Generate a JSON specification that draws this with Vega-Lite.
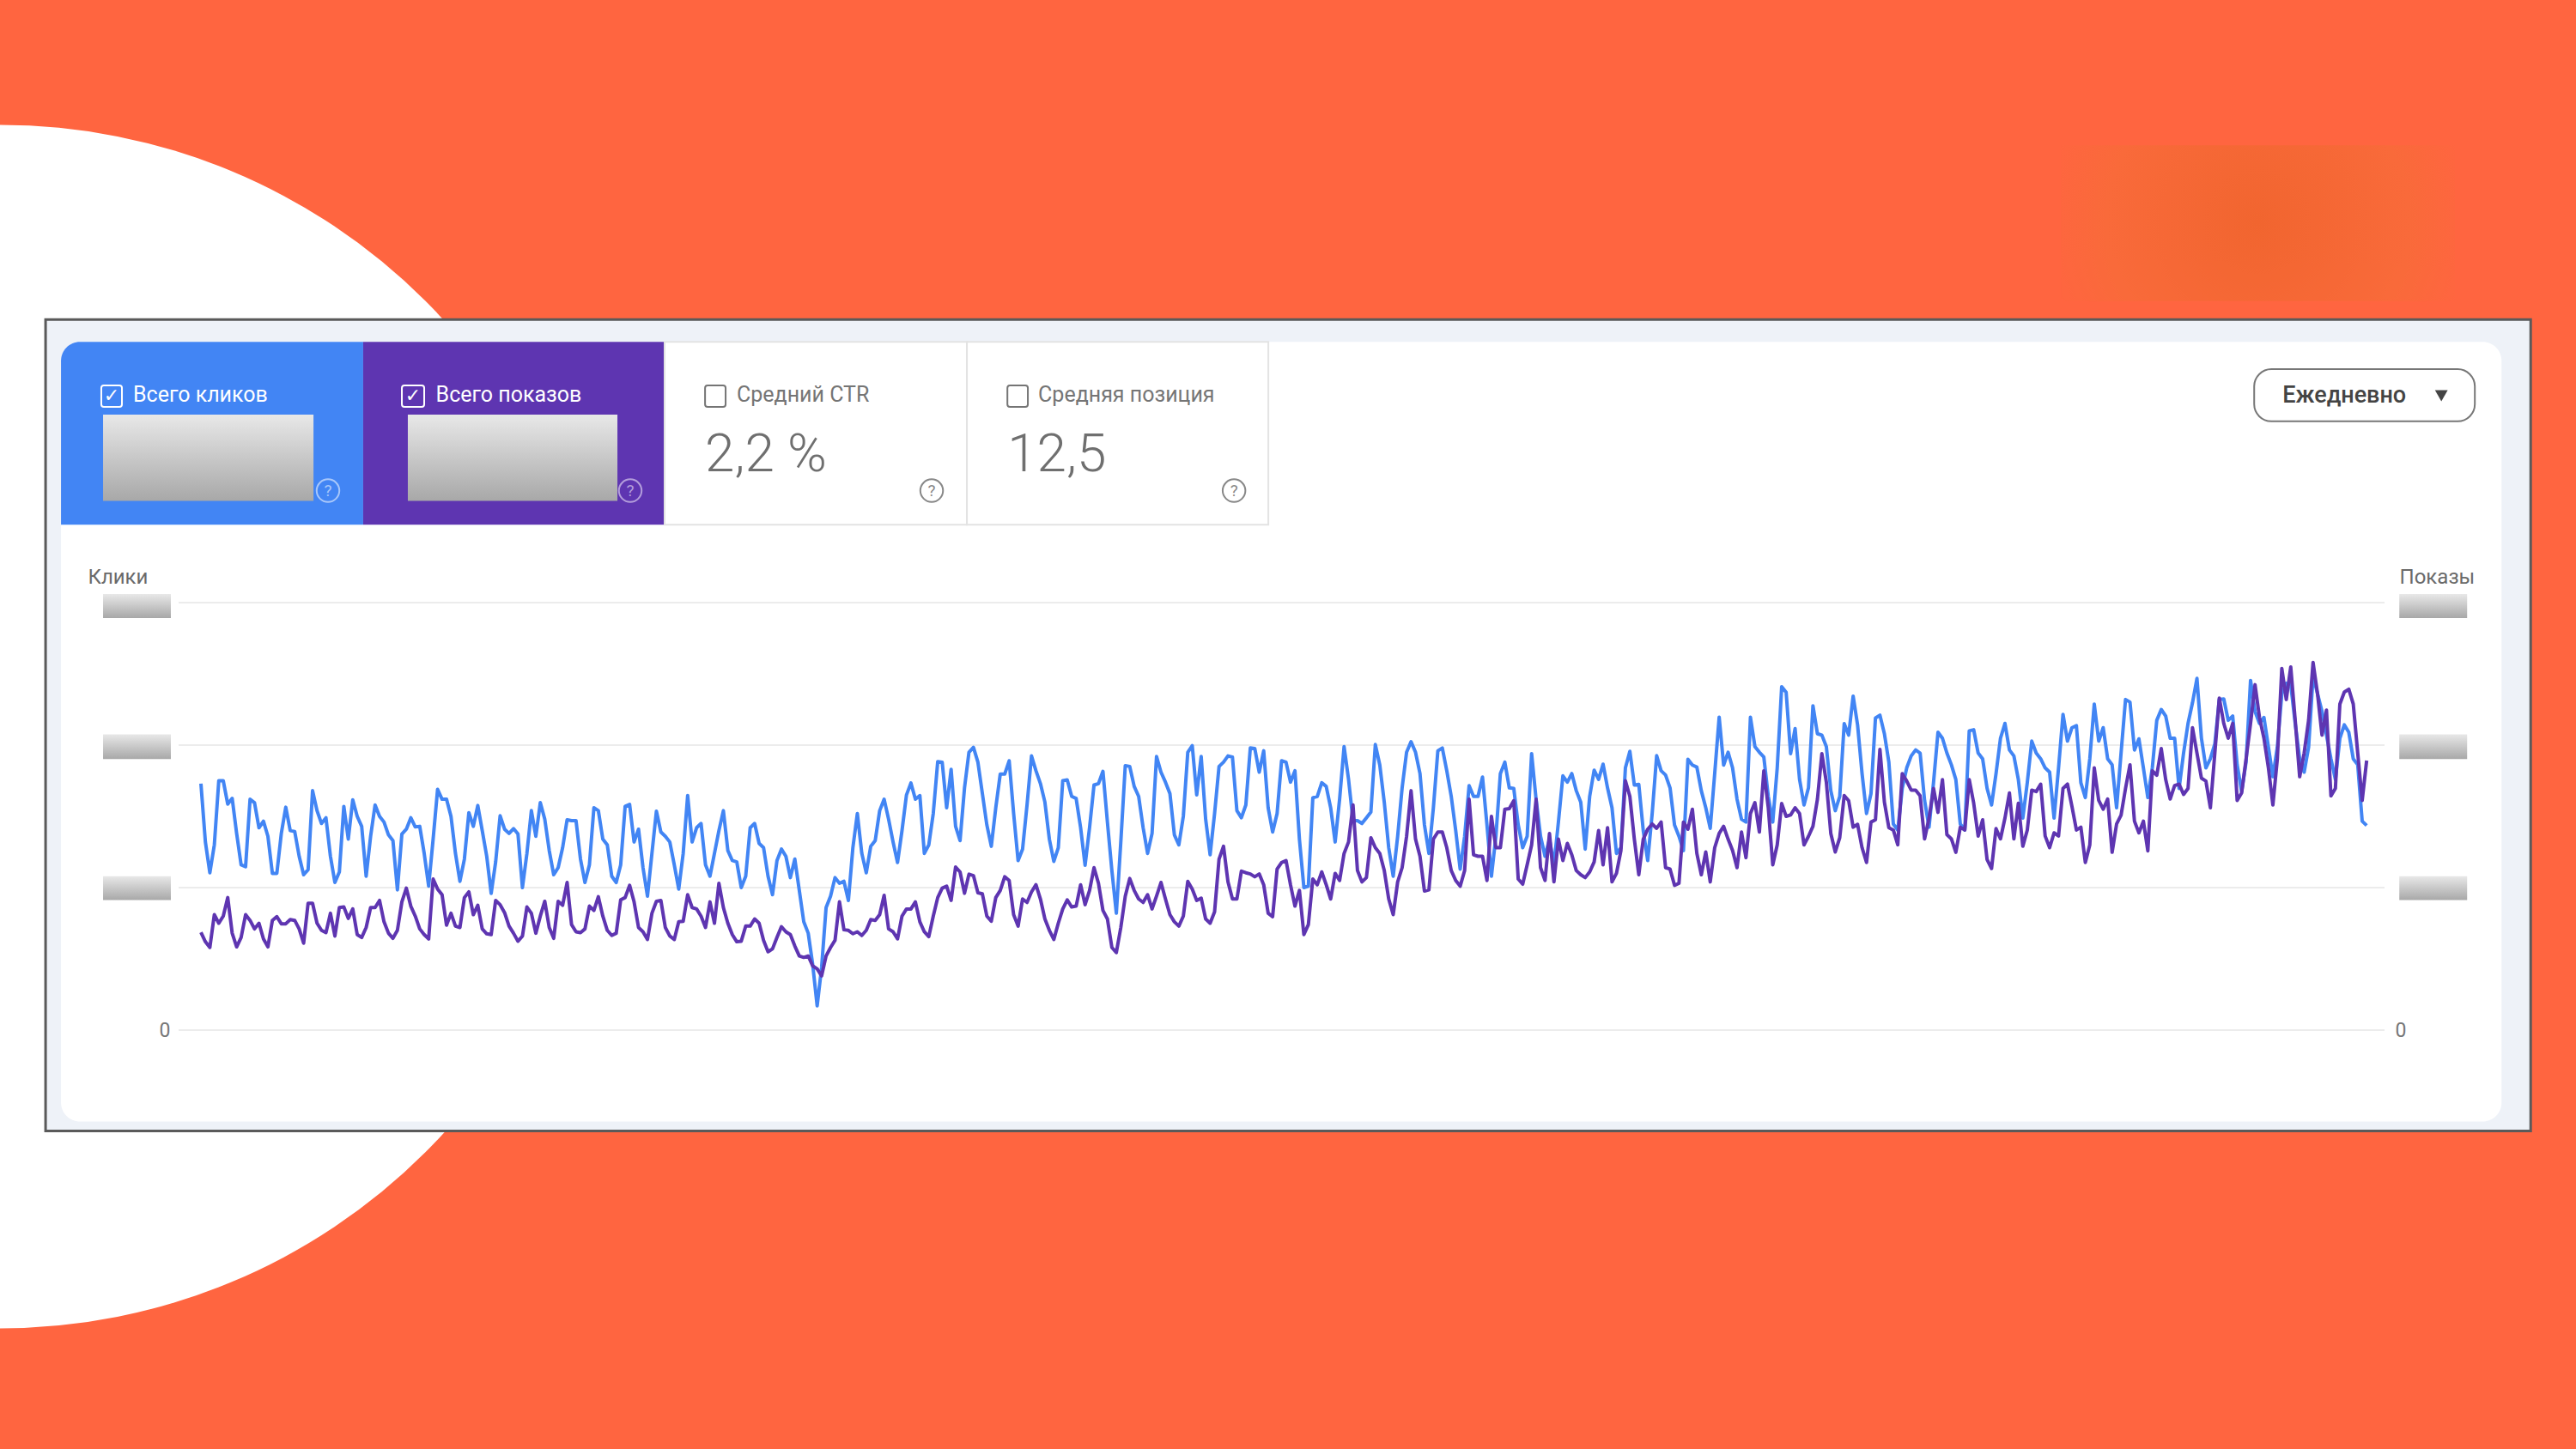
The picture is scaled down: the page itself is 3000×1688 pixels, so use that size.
{
"$schema":"https://vega.github.io/schema/vega-lite/v6.json",
"width":2569,"height":498,
"autosize":{"type":"none"},
"padding":{"left":208,"top":702,"right":223,"bottom":488},
"background":"#ff6540",
"config":{"view":{"stroke":null},"font":"Roboto"},
"datasets":{
"grid":[{"tick":0},{"tick":500},{"tick":1000},{"tick":1500}],
"daily":[
{"date":"2024-08-15","clicks":865,"impressions":343},{"date":"2024-08-16","clicks":660,"impressions":310},{"date":"2024-08-17","clicks":552,"impressions":290},{"date":"2024-08-18","clicks":650,"impressions":405},{"date":"2024-08-19","clicks":875,"impressions":375},{"date":"2024-08-20","clicks":875,"impressions":400},{"date":"2024-08-21","clicks":793,"impressions":465},{"date":"2024-08-22","clicks":813,"impressions":340},{"date":"2024-08-23","clicks":690,"impressions":292},{"date":"2024-08-24","clicks":580,"impressions":325},{"date":"2024-08-25","clicks":573,"impressions":405},{"date":"2024-08-26","clicks":810,"impressions":385},{"date":"2024-08-27","clicks":798,"impressions":355},{"date":"2024-08-28","clicks":710,"impressions":375},{"date":"2024-08-29","clicks":733,"impressions":320},{"date":"2024-08-30","clicks":680,"impressions":292},{"date":"2024-08-31","clicks":550,"impressions":385},
{"date":"2024-09-01","clicks":550,"impressions":398},{"date":"2024-09-02","clicks":690,"impressions":373},{"date":"2024-09-03","clicks":782,"impressions":373},{"date":"2024-09-04","clicks":700,"impressions":388},{"date":"2024-09-05","clicks":697,"impressions":385},{"date":"2024-09-06","clicks":610,"impressions":355},{"date":"2024-09-07","clicks":545,"impressions":305},{"date":"2024-09-08","clicks":563,"impressions":445},{"date":"2024-09-09","clicks":840,"impressions":445},{"date":"2024-09-10","clicks":770,"impressions":375},{"date":"2024-09-11","clicks":725,"impressions":350},{"date":"2024-09-12","clicks":745,"impressions":342},{"date":"2024-09-13","clicks":610,"impressions":410},{"date":"2024-09-14","clicks":518,"impressions":330},{"date":"2024-09-15","clicks":555,"impressions":430},{"date":"2024-09-16","clicks":785,"impressions":432},{"date":"2024-09-17","clicks":670,"impressions":392},{"date":"2024-09-18","clicks":808,"impressions":425},{"date":"2024-09-19","clicks":750,"impressions":335},{"date":"2024-09-20","clicks":715,"impressions":325},{"date":"2024-09-21","clicks":540,"impressions":360},{"date":"2024-09-22","clicks":680,"impressions":430},{"date":"2024-09-23","clicks":790,"impressions":430},{"date":"2024-09-24","clicks":750,"impressions":455},{"date":"2024-09-25","clicks":730,"impressions":380},{"date":"2024-09-26","clicks":685,"impressions":340},{"date":"2024-09-27","clicks":665,"impressions":322},{"date":"2024-09-28","clicks":492,"impressions":350},{"date":"2024-09-29","clicks":688,"impressions":450},{"date":"2024-09-30","clicks":705,"impressions":498},
{"date":"2024-10-01","clicks":745,"impressions":435},{"date":"2024-10-02","clicks":713,"impressions":400},{"date":"2024-10-03","clicks":715,"impressions":355},{"date":"2024-10-04","clicks":620,"impressions":335},{"date":"2024-10-05","clicks":505,"impressions":320},{"date":"2024-10-06","clicks":670,"impressions":530},{"date":"2024-10-07","clicks":845,"impressions":495},{"date":"2024-10-08","clicks":810,"impressions":475},{"date":"2024-10-09","clicks":810,"impressions":368},{"date":"2024-10-10","clicks":750,"impressions":410},{"date":"2024-10-11","clicks":620,"impressions":365},{"date":"2024-10-12","clicks":522,"impressions":360},{"date":"2024-10-13","clicks":600,"impressions":465},{"date":"2024-10-14","clicks":763,"impressions":485},{"date":"2024-10-15","clicks":715,"impressions":405},{"date":"2024-10-16","clicks":788,"impressions":438},{"date":"2024-10-17","clicks":700,"impressions":355},{"date":"2024-10-18","clicks":610,"impressions":338},{"date":"2024-10-19","clicks":480,"impressions":335},{"date":"2024-10-20","clicks":590,"impressions":455},{"date":"2024-10-21","clicks":752,"impressions":440},{"date":"2024-10-22","clicks":705,"impressions":412},{"date":"2024-10-23","clicks":690,"impressions":365},{"date":"2024-10-24","clicks":707,"impressions":340},{"date":"2024-10-25","clicks":688,"impressions":312},{"date":"2024-10-26","clicks":500,"impressions":330},{"date":"2024-10-27","clicks":620,"impressions":432},{"date":"2024-10-28","clicks":770,"impressions":410},{"date":"2024-10-29","clicks":680,"impressions":340},{"date":"2024-10-30","clicks":798,"impressions":400},{"date":"2024-10-31","clicks":740,"impressions":452},
{"date":"2024-11-01","clicks":630,"impressions":360},{"date":"2024-11-02","clicks":545,"impressions":322},{"date":"2024-11-03","clicks":570,"impressions":452},{"date":"2024-11-04","clicks":640,"impressions":438},{"date":"2024-11-05","clicks":738,"impressions":518},{"date":"2024-11-06","clicks":735,"impressions":370},{"date":"2024-11-07","clicks":735,"impressions":345},{"date":"2024-11-08","clicks":600,"impressions":342},{"date":"2024-11-09","clicks":518,"impressions":355},{"date":"2024-11-10","clicks":580,"impressions":435},{"date":"2024-11-11","clicks":780,"impressions":420},{"date":"2024-11-12","clicks":770,"impressions":468},{"date":"2024-11-13","clicks":670,"impressions":400},{"date":"2024-11-14","clicks":650,"impressions":350},{"date":"2024-11-15","clicks":540,"impressions":332},{"date":"2024-11-16","clicks":518,"impressions":340},{"date":"2024-11-17","clicks":580,"impressions":457},{"date":"2024-11-18","clicks":785,"impressions":465},{"date":"2024-11-19","clicks":792,"impressions":508},{"date":"2024-11-20","clicks":660,"impressions":450},{"date":"2024-11-21","clicks":705,"impressions":360},{"date":"2024-11-22","clicks":570,"impressions":345},{"date":"2024-11-23","clicks":470,"impressions":318},{"date":"2024-11-24","clicks":620,"impressions":410},{"date":"2024-11-25","clicks":768,"impressions":452},{"date":"2024-11-26","clicks":695,"impressions":455},{"date":"2024-11-27","clicks":680,"impressions":360},{"date":"2024-11-28","clicks":660,"impressions":330},{"date":"2024-11-29","clicks":580,"impressions":318},{"date":"2024-11-30","clicks":495,"impressions":380},
{"date":"2024-12-01","clicks":620,"impressions":382},{"date":"2024-12-02","clicks":823,"impressions":475},{"date":"2024-12-03","clicks":660,"impressions":430},{"date":"2024-12-04","clicks":710,"impressions":425},{"date":"2024-12-05","clicks":725,"impressions":400},{"date":"2024-12-06","clicks":580,"impressions":360},{"date":"2024-12-07","clicks":540,"impressions":450},{"date":"2024-12-08","clicks":620,"impressions":375},{"date":"2024-12-09","clicks":700,"impressions":515},{"date":"2024-12-10","clicks":770,"impressions":430},{"date":"2024-12-11","clicks":630,"impressions":375},{"date":"2024-12-12","clicks":595,"impressions":335},{"date":"2024-12-13","clicks":590,"impressions":310},{"date":"2024-12-14","clicks":500,"impressions":312},{"date":"2024-12-15","clicks":540,"impressions":365},{"date":"2024-12-16","clicks":710,"impressions":365},{"date":"2024-12-17","clicks":725,"impressions":390},{"date":"2024-12-18","clicks":655,"impressions":375},{"date":"2024-12-19","clicks":640,"impressions":315},{"date":"2024-12-20","clicks":540,"impressions":275},{"date":"2024-12-21","clicks":475,"impressions":285},{"date":"2024-12-22","clicks":595,"impressions":325},{"date":"2024-12-23","clicks":635,"impressions":363},{"date":"2024-12-24","clicks":610,"impressions":345},{"date":"2024-12-25","clicks":535,"impressions":335},{"date":"2024-12-26","clicks":600,"impressions":295},{"date":"2024-12-27","clicks":490,"impressions":260},{"date":"2024-12-28","clicks":380,"impressions":255},{"date":"2024-12-29","clicks":340,"impressions":260},{"date":"2024-12-30","clicks":230,"impressions":225},{"date":"2024-12-31","clicks":85,"impressions":215},
{"date":"2025-01-01","clicks":220,"impressions":190},{"date":"2025-01-02","clicks":430,"impressions":260},{"date":"2025-01-03","clicks":470,"impressions":290},{"date":"2025-01-04","clicks":535,"impressions":315},{"date":"2025-01-05","clicks":515,"impressions":450},{"date":"2025-01-06","clicks":522,"impressions":352},{"date":"2025-01-07","clicks":455,"impressions":350},{"date":"2025-01-08","clicks":640,"impressions":338},{"date":"2025-01-09","clicks":760,"impressions":345},{"date":"2025-01-10","clicks":620,"impressions":332},{"date":"2025-01-11","clicks":552,"impressions":350},{"date":"2025-01-12","clicks":645,"impressions":388},{"date":"2025-01-13","clicks":665,"impressions":385},{"date":"2025-01-14","clicks":770,"impressions":405},{"date":"2025-01-15","clicks":810,"impressions":473},{"date":"2025-01-16","clicks":740,"impressions":355},{"date":"2025-01-17","clicks":660,"impressions":345},{"date":"2025-01-18","clicks":588,"impressions":320},{"date":"2025-01-19","clicks":700,"impressions":400},{"date":"2025-01-20","clicks":825,"impressions":425},{"date":"2025-01-21","clicks":867,"impressions":425},{"date":"2025-01-22","clicks":810,"impressions":450},{"date":"2025-01-23","clicks":823,"impressions":380},{"date":"2025-01-24","clicks":620,"impressions":345},{"date":"2025-01-25","clicks":650,"impressions":328},{"date":"2025-01-26","clicks":760,"impressions":400},{"date":"2025-01-27","clicks":942,"impressions":465},{"date":"2025-01-28","clicks":940,"impressions":498},{"date":"2025-01-29","clicks":780,"impressions":505},{"date":"2025-01-30","clicks":915,"impressions":455},{"date":"2025-01-31","clicks":715,"impressions":572},
{"date":"2025-02-01","clicks":665,"impressions":555},{"date":"2025-02-02","clicks":850,"impressions":480},{"date":"2025-02-03","clicks":975,"impressions":547},{"date":"2025-02-04","clicks":992,"impressions":542},{"date":"2025-02-05","clicks":940,"impressions":482},{"date":"2025-02-06","clicks":830,"impressions":478},{"date":"2025-02-07","clicks":720,"impressions":400},{"date":"2025-02-08","clicks":645,"impressions":382},{"date":"2025-02-09","clicks":780,"impressions":465},{"date":"2025-02-10","clicks":898,"impressions":490},{"date":"2025-02-11","clicks":898,"impressions":538},{"date":"2025-02-12","clicks":945,"impressions":525},{"date":"2025-02-13","clicks":760,"impressions":405},{"date":"2025-02-14","clicks":595,"impressions":365},{"date":"2025-02-15","clicks":635,"impressions":460},{"date":"2025-02-16","clicks":790,"impressions":448},{"date":"2025-02-17","clicks":962,"impressions":485},{"date":"2025-02-18","clicks":910,"impressions":510},{"date":"2025-02-19","clicks":865,"impressions":460},{"date":"2025-02-20","clicks":800,"impressions":390},{"date":"2025-02-21","clicks":670,"impressions":350},{"date":"2025-02-22","clicks":592,"impressions":318},{"date":"2025-02-23","clicks":640,"impressions":375},{"date":"2025-02-24","clicks":875,"impressions":425},{"date":"2025-02-25","clicks":878,"impressions":457},{"date":"2025-02-26","clicks":820,"impressions":432},{"date":"2025-02-27","clicks":813,"impressions":435},{"date":"2025-02-28","clicks":710,"impressions":510},
{"date":"2025-03-01","clicks":578,"impressions":440},{"date":"2025-03-02","clicks":710,"impressions":490},{"date":"2025-03-03","clicks":860,"impressions":570},{"date":"2025-03-04","clicks":865,"impressions":515},{"date":"2025-03-05","clicks":908,"impressions":420},{"date":"2025-03-06","clicks":730,"impressions":390},{"date":"2025-03-07","clicks":560,"impressions":290},{"date":"2025-03-08","clicks":410,"impressions":272},{"date":"2025-03-09","clicks":660,"impressions":360},{"date":"2025-03-10","clicks":928,"impressions":470},{"date":"2025-03-11","clicks":925,"impressions":532},{"date":"2025-03-12","clicks":855,"impressions":490},{"date":"2025-03-13","clicks":820,"impressions":460},{"date":"2025-03-14","clicks":710,"impressions":448},{"date":"2025-03-15","clicks":620,"impressions":475},{"date":"2025-03-16","clicks":690,"impressions":425},{"date":"2025-03-17","clicks":960,"impressions":470},{"date":"2025-03-18","clicks":905,"impressions":518},{"date":"2025-03-19","clicks":870,"impressions":460},{"date":"2025-03-20","clicks":830,"impressions":405},{"date":"2025-03-21","clicks":685,"impressions":380},{"date":"2025-03-22","clicks":650,"impressions":365},{"date":"2025-03-23","clicks":750,"impressions":400},{"date":"2025-03-24","clicks":975,"impressions":522},{"date":"2025-03-25","clicks":998,"impressions":495},{"date":"2025-03-26","clicks":825,"impressions":455},{"date":"2025-03-27","clicks":960,"impressions":463},{"date":"2025-03-28","clicks":740,"impressions":390},{"date":"2025-03-29","clicks":615,"impressions":375},{"date":"2025-03-30","clicks":760,"impressions":415},{"date":"2025-03-31","clicks":925,"impressions":600},
{"date":"2025-04-01","clicks":940,"impressions":645},{"date":"2025-04-02","clicks":962,"impressions":520},{"date":"2025-04-03","clicks":958,"impressions":460},{"date":"2025-04-04","clicks":770,"impressions":460},{"date":"2025-04-05","clicks":745,"impressions":558},{"date":"2025-04-06","clicks":790,"impressions":552},{"date":"2025-04-07","clicks":990,"impressions":548},{"date":"2025-04-08","clicks":988,"impressions":538},{"date":"2025-04-09","clicks":905,"impressions":548},{"date":"2025-04-10","clicks":980,"impressions":510},{"date":"2025-04-11","clicks":780,"impressions":410},{"date":"2025-04-12","clicks":695,"impressions":398},{"date":"2025-04-13","clicks":760,"impressions":565},{"date":"2025-04-14","clicks":945,"impressions":588},{"date":"2025-04-15","clicks":940,"impressions":595},{"date":"2025-04-16","clicks":870,"impressions":510},{"date":"2025-04-17","clicks":910,"impressions":435},{"date":"2025-04-18","clicks":670,"impressions":490},{"date":"2025-04-19","clicks":500,"impressions":335},{"date":"2025-04-20","clicks":505,"impressions":370},{"date":"2025-04-21","clicks":815,"impressions":530},{"date":"2025-04-22","clicks":820,"impressions":510},{"date":"2025-04-23","clicks":868,"impressions":555},{"date":"2025-04-24","clicks":855,"impressions":510},{"date":"2025-04-25","clicks":780,"impressions":460},{"date":"2025-04-26","clicks":660,"impressions":550},{"date":"2025-04-27","clicks":810,"impressions":525},{"date":"2025-04-28","clicks":995,"impressions":620},{"date":"2025-04-29","clicks":880,"impressions":660},{"date":"2025-04-30","clicks":735,"impressions":790},
{"date":"2025-05-01","clicks":735,"impressions":560},{"date":"2025-05-02","clicks":725,"impressions":520},{"date":"2025-05-03","clicks":745,"impressions":535},{"date":"2025-05-04","clicks":765,"impressions":675},{"date":"2025-05-05","clicks":1002,"impressions":640},{"date":"2025-05-06","clicks":930,"impressions":620},{"date":"2025-05-07","clicks":800,"impressions":560},{"date":"2025-05-08","clicks":640,"impressions":460},{"date":"2025-05-09","clicks":540,"impressions":405},{"date":"2025-05-10","clicks":680,"impressions":520},{"date":"2025-05-11","clicks":850,"impressions":570},{"date":"2025-05-12","clicks":975,"impressions":680},{"date":"2025-05-13","clicks":1012,"impressions":840},{"date":"2025-05-14","clicks":975,"impressions":670},{"date":"2025-05-15","clicks":900,"impressions":610},{"date":"2025-05-16","clicks":720,"impressions":488},{"date":"2025-05-17","clicks":620,"impressions":492},{"date":"2025-05-18","clicks":780,"impressions":670},{"date":"2025-05-19","clicks":980,"impressions":695},{"date":"2025-05-20","clicks":990,"impressions":695},{"date":"2025-05-21","clicks":910,"impressions":640},{"date":"2025-05-22","clicks":820,"impressions":560},{"date":"2025-05-23","clicks":700,"impressions":525},{"date":"2025-05-24","clicks":565,"impressions":505},{"date":"2025-05-25","clicks":680,"impressions":560},{"date":"2025-05-26","clicks":858,"impressions":810},{"date":"2025-05-27","clicks":820,"impressions":615},{"date":"2025-05-28","clicks":820,"impressions":610},{"date":"2025-05-29","clicks":888,"impressions":610},{"date":"2025-05-30","clicks":720,"impressions":525},{"date":"2025-05-31","clicks":540,"impressions":750},
{"date":"2025-06-01","clicks":680,"impressions":640},{"date":"2025-06-02","clicks":900,"impressions":640},{"date":"2025-06-03","clicks":940,"impressions":775},{"date":"2025-06-04","clicks":850,"impressions":777},{"date":"2025-06-05","clicks":848,"impressions":805},{"date":"2025-06-06","clicks":720,"impressions":530},{"date":"2025-06-07","clicks":640,"impressions":512},{"date":"2025-06-08","clicks":680,"impressions":580},{"date":"2025-06-09","clicks":970,"impressions":650},{"date":"2025-06-10","clicks":810,"impressions":810},{"date":"2025-06-11","clicks":680,"impressions":570},{"date":"2025-06-12","clicks":610,"impressions":525},{"date":"2025-06-13","clicks":670,"impressions":690},{"date":"2025-06-14","clicks":580,"impressions":520},{"date":"2025-06-15","clicks":730,"impressions":670},{"date":"2025-06-16","clicks":892,"impressions":595},{"date":"2025-06-17","clicks":870,"impressions":655},{"date":"2025-06-18","clicks":900,"impressions":615},{"date":"2025-06-19","clicks":840,"impressions":560},{"date":"2025-06-20","clicks":800,"impressions":545},{"date":"2025-06-21","clicks":635,"impressions":535},{"date":"2025-06-22","clicks":820,"impressions":555},{"date":"2025-06-23","clicks":912,"impressions":590},{"date":"2025-06-24","clicks":880,"impressions":700},{"date":"2025-06-25","clicks":933,"impressions":580},{"date":"2025-06-26","clicks":850,"impressions":710},{"date":"2025-06-27","clicks":780,"impressions":520},{"date":"2025-06-28","clicks":620,"impressions":550},{"date":"2025-06-29","clicks":640,"impressions":630},{"date":"2025-06-30","clicks":920,"impressions":875},
{"date":"2025-07-01","clicks":978,"impressions":820},{"date":"2025-07-02","clicks":860,"impressions":670},{"date":"2025-07-03","clicks":862,"impressions":545},{"date":"2025-07-04","clicks":700,"impressions":670},{"date":"2025-07-05","clicks":595,"impressions":705},{"date":"2025-07-06","clicks":760,"impressions":723},{"date":"2025-07-07","clicks":963,"impressions":708},{"date":"2025-07-08","clicks":910,"impressions":730},{"date":"2025-07-09","clicks":895,"impressions":570},{"date":"2025-07-10","clicks":850,"impressions":565},{"date":"2025-07-11","clicks":720,"impressions":508},{"date":"2025-07-12","clicks":680,"impressions":515},{"date":"2025-07-13","clicks":630,"impressions":730},{"date":"2025-07-14","clicks":950,"impressions":705},{"date":"2025-07-15","clicks":930,"impressions":775},{"date":"2025-07-16","clicks":923,"impressions":620},{"date":"2025-07-17","clicks":840,"impressions":545},{"date":"2025-07-18","clicks":780,"impressions":625},{"date":"2025-07-19","clicks":708,"impressions":520},{"date":"2025-07-20","clicks":900,"impressions":640},{"date":"2025-07-21","clicks":1098,"impressions":690},{"date":"2025-07-22","clicks":930,"impressions":715},{"date":"2025-07-23","clicks":975,"impressions":670},{"date":"2025-07-24","clicks":920,"impressions":630},{"date":"2025-07-25","clicks":810,"impressions":570},{"date":"2025-07-26","clicks":740,"impressions":695},{"date":"2025-07-27","clicks":730,"impressions":605},{"date":"2025-07-28","clicks":1098,"impressions":760},{"date":"2025-07-29","clicks":995,"impressions":798},{"date":"2025-07-30","clicks":975,"impressions":695},{"date":"2025-07-31","clicks":958,"impressions":910},
{"date":"2025-08-01","clicks":820,"impressions":780},{"date":"2025-08-02","clicks":730,"impressions":580},{"date":"2025-08-03","clicks":920,"impressions":650},{"date":"2025-08-04","clicks":1205,"impressions":795},{"date":"2025-08-05","clicks":1185,"impressions":750},{"date":"2025-08-06","clicks":970,"impressions":755},{"date":"2025-08-07","clicks":1058,"impressions":780},{"date":"2025-08-08","clicks":880,"impressions":760},{"date":"2025-08-09","clicks":790,"impressions":650},{"date":"2025-08-10","clicks":850,"impressions":680},{"date":"2025-08-11","clicks":1138,"impressions":715},{"date":"2025-08-12","clicks":1040,"impressions":810},{"date":"2025-08-13","clicks":1035,"impressions":970},{"date":"2025-08-14","clicks":995,"impressions":870},{"date":"2025-08-15","clicks":840,"impressions":690},{"date":"2025-08-16","clicks":770,"impressions":625},{"date":"2025-08-17","clicks":820,"impressions":675},{"date":"2025-08-18","clicks":1075,"impressions":823},{"date":"2025-08-19","clicks":1035,"impressions":805},{"date":"2025-08-20","clicks":1172,"impressions":712},{"date":"2025-08-21","clicks":1070,"impressions":722},{"date":"2025-08-22","clicks":900,"impressions":640},{"date":"2025-08-23","clicks":760,"impressions":588},{"date":"2025-08-24","clicks":830,"impressions":730},{"date":"2025-08-25","clicks":1095,"impressions":738},{"date":"2025-08-26","clicks":1105,"impressions":985},{"date":"2025-08-27","clicks":1040,"impressions":800},{"date":"2025-08-28","clicks":940,"impressions":710},{"date":"2025-08-29","clicks":723,"impressions":702},{"date":"2025-08-30","clicks":702,"impressions":650},{"date":"2025-08-31","clicks":848,"impressions":900},
{"date":"2025-09-01","clicks":920,"impressions":874},{"date":"2025-09-02","clicks":962,"impressions":842},{"date":"2025-09-03","clicks":983,"impressions":842},{"date":"2025-09-04","clicks":972,"impressions":822},{"date":"2025-09-05","clicks":806,"impressions":671},{"date":"2025-09-06","clicks":712,"impressions":744},{"date":"2025-09-07","clicks":868,"impressions":848},{"date":"2025-09-08","clicks":1045,"impressions":764},{"date":"2025-09-09","clicks":1024,"impressions":879},{"date":"2025-09-10","clicks":972,"impressions":686},{"date":"2025-09-11","clicks":931,"impressions":671},{"date":"2025-09-12","clicks":879,"impressions":624},{"date":"2025-09-13","clicks":723,"impressions":712},{"date":"2025-09-14","clicks":702,"impressions":702},{"date":"2025-09-15","clicks":1050,"impressions":879},{"date":"2025-09-16","clicks":1054,"impressions":796},{"date":"2025-09-17","clicks":972,"impressions":681},{"date":"2025-09-18","clicks":952,"impressions":738},{"date":"2025-09-19","clicks":848,"impressions":598},{"date":"2025-09-20","clicks":790,"impressions":567},{"date":"2025-09-21","clicks":900,"impressions":707},{"date":"2025-09-22","clicks":1024,"impressions":671},{"date":"2025-09-23","clicks":1076,"impressions":744},{"date":"2025-09-24","clicks":983,"impressions":832},{"date":"2025-09-25","clicks":962,"impressions":671},{"date":"2025-09-26","clicks":879,"impressions":796},{"date":"2025-09-27","clicks":744,"impressions":645},{"date":"2025-09-28","clicks":868,"impressions":702},{"date":"2025-09-29","clicks":1014,"impressions":842},{"date":"2025-09-30","clicks":972,"impressions":837},
{"date":"2025-10-01","clicks":952,"impressions":863},{"date":"2025-10-02","clicks":920,"impressions":681},{"date":"2025-10-03","clicks":905,"impressions":640},{"date":"2025-10-04","clicks":744,"impressions":692},{"date":"2025-10-05","clicks":920,"impressions":681},{"date":"2025-10-06","clicks":1108,"impressions":848},{"date":"2025-10-07","clicks":1014,"impressions":863},{"date":"2025-10-08","clicks":1061,"impressions":785},{"date":"2025-10-09","clicks":1068,"impressions":702},{"date":"2025-10-10","clicks":868,"impressions":712},{"date":"2025-10-11","clicks":816,"impressions":588},{"date":"2025-10-12","clicks":952,"impressions":650},{"date":"2025-10-13","clicks":1144,"impressions":920},{"date":"2025-10-14","clicks":1014,"impressions":806},{"date":"2025-10-15","clicks":1061,"impressions":775},{"date":"2025-10-16","clicks":952,"impressions":811},{"date":"2025-10-17","clicks":931,"impressions":624},{"date":"2025-10-18","clicks":780,"impressions":723},{"date":"2025-10-19","clicks":972,"impressions":754},{"date":"2025-10-20","clicks":1160,"impressions":848},{"date":"2025-10-21","clicks":1151,"impressions":931},{"date":"2025-10-22","clicks":983,"impressions":733},{"date":"2025-10-23","clicks":1022,"impressions":692},{"date":"2025-10-24","clicks":920,"impressions":733},{"date":"2025-10-25","clicks":816,"impressions":629},{"date":"2025-10-26","clicks":920,"impressions":910},{"date":"2025-10-27","clicks":1087,"impressions":894},{"date":"2025-10-28","clicks":1125,"impressions":988},{"date":"2025-10-29","clicks":1102,"impressions":879},{"date":"2025-10-30","clicks":1024,"impressions":811},{"date":"2025-10-31","clicks":1024,"impressions":858},
{"date":"2025-11-01","clicks":848,"impressions":863},{"date":"2025-11-02","clicks":972,"impressions":827},{"date":"2025-11-03","clicks":1076,"impressions":848},{"date":"2025-11-04","clicks":1149,"impressions":1061},{"date":"2025-11-05","clicks":1234,"impressions":972},{"date":"2025-11-06","clicks":1024,"impressions":884},{"date":"2025-11-07","clicks":920,"impressions":874},{"date":"2025-11-08","clicks":952,"impressions":780},{"date":"2025-11-09","clicks":1004,"impressions":972},{"date":"2025-11-10","clicks":1160,"impressions":1165},{"date":"2025-11-11","clicks":1162,"impressions":1076},{"date":"2025-11-12","clicks":1087,"impressions":1024},{"date":"2025-11-13","clicks":1102,"impressions":1076},{"date":"2025-11-14","clicks":931,"impressions":806},{"date":"2025-11-15","clicks":837,"impressions":832},{"date":"2025-11-16","clicks":941,"impressions":952},{"date":"2025-11-17","clicks":1227,"impressions":1076},{"date":"2025-11-18","clicks":1118,"impressions":1212},{"date":"2025-11-19","clicks":1076,"impressions":1097},{"date":"2025-11-20","clicks":1097,"impressions":1024},{"date":"2025-11-21","clicks":993,"impressions":920},{"date":"2025-11-22","clicks":889,"impressions":790},{"date":"2025-11-23","clicks":993,"impressions":952},{"date":"2025-11-24","clicks":1180,"impressions":1269},{"date":"2025-11-25","clicks":1217,"impressions":1160},{"date":"2025-11-26","clicks":1212,"impressions":1274},{"date":"2025-11-27","clicks":1076,"impressions":1087},{"date":"2025-11-28","clicks":952,"impressions":889},{"date":"2025-11-29","clicks":905,"impressions":972},{"date":"2025-11-30","clicks":993,"impressions":1087},
{"date":"2025-12-01","clicks":1243,"impressions":1290},{"date":"2025-12-02","clicks":1180,"impressions":1180},{"date":"2025-12-03","clicks":1118,"impressions":1035},{"date":"2025-12-04","clicks":1035,"impressions":1123},{"date":"2025-12-05","clicks":952,"impressions":822},{"date":"2025-12-06","clicks":879,"impressions":848},{"date":"2025-12-07","clicks":1024,"impressions":1144},{"date":"2025-12-08","clicks":1071,"impressions":1186},{"date":"2025-12-09","clicks":1045,"impressions":1196},{"date":"2025-12-10","clicks":952,"impressions":1144},{"date":"2025-12-11","clicks":931,"impressions":972},{"date":"2025-12-12","clicks":733,"impressions":806},{"date":"2025-12-13","clicks":718,"impressions":946}
]
},
"data":{"values":[{}]},
"resolve":{"scale":{"y":"independent"}},
"layer":[
{"layer":[
{"mark":{"type":"point","filled":true,"color":"#ffffff","opacity":1,"size":1965604},"encoding":{"x":{"datum":{"year":2024,"month":7,"date":1,"utc":true},"type":"temporal"},"y":{"datum":1065}}},
{"mark":{"type":"rect","fill":{"gradient":"radial","x1":0.5,"y1":0.5,"r1":0,"x2":0.5,"y2":0.5,"r2":0.55,"stops":[{"offset":0,"color":"#f1652f"},{"offset":0.7,"color":"#f96a3a"},{"offset":1,"color":"#ff6540"}]}},"encoding":{"x":{"datum":{"year":2025,"month":10,"date":5,"hours":13,"utc":true},"type":"temporal"},"x2":{"datum":{"year":2026,"month":1,"date":1,"hours":19,"utc":true}},"y":{"datum":3105},"y2":{"datum":2559}}},
{"mark":{"type":"rect","fill":"#eef2f8","stroke":"#5a5a5a","strokeWidth":3},"encoding":{"x":{"datum":{"year":2024,"month":7,"date":11,"hours":5,"utc":true},"type":"temporal"},"x2":{"datum":{"year":2026,"month":1,"date":18,"hours":17,"minutes":30,"utc":true}},"y":{"datum":2493},"y2":{"datum":-354}}},
{"mark":{"type":"rect","fill":"#ffffff","cornerRadius":22},"encoding":{"x":{"datum":{"year":2024,"month":7,"date":14,"hours":16,"utc":true},"type":"temporal"},"x2":{"datum":{"year":2026,"month":1,"date":12,"hours":5,"utc":true}},"y":{"datum":2415},"y2":{"datum":-321}}},
{"mark":{"type":"rect","fill":"#4285f4","cornerRadiusTopLeft":22},"encoding":{"x":{"datum":{"year":2024,"month":7,"date":14,"hours":16,"utc":true},"type":"temporal"},"x2":{"datum":{"year":2024,"month":9,"date":20,"hours":8,"utc":true}},"y":{"datum":2415},"y2":{"datum":1773}}},
{"mark":{"type":"rect","fill":"#5e35b1"},"encoding":{"x":{"datum":{"year":2024,"month":9,"date":20,"hours":8,"utc":true},"type":"temporal"},"x2":{"datum":{"year":2024,"month":11,"date":26,"hours":20,"utc":true}},"y":{"datum":2415},"y2":{"datum":1773}}},
{"mark":{"type":"rect","fill":"#ffffff","stroke":"#e3e3e3","strokeWidth":2},"encoding":{"x":{"datum":{"year":2024,"month":11,"date":26,"hours":20,"utc":true},"type":"temporal"},"x2":{"datum":{"year":2025,"month":2,"date":2,"hours":13,"utc":true}},"y":{"datum":2415},"y2":{"datum":1773}}},
{"mark":{"type":"rect","fill":"#ffffff","stroke":"#e3e3e3","strokeWidth":2},"encoding":{"x":{"datum":{"year":2025,"month":2,"date":2,"hours":13,"utc":true},"type":"temporal"},"x2":{"datum":{"year":2025,"month":4,"date":11,"hours":1,"utc":true}},"y":{"datum":2415},"y2":{"datum":1773}}},
{"mark":{"type":"rect","fill":{"gradient":"linear","x1":0,"y1":0,"x2":0,"y2":1,"stops":[{"offset":0,"color":"#e8e8e8"},{"offset":1,"color":"#a8a8a8"}]}},"encoding":{"x":{"datum":{"year":2024,"month":7,"date":24,"hours":2,"utc":true},"type":"temporal"},"x2":{"datum":{"year":2024,"month":9,"date":9,"hours":5,"utc":true}},"y":{"datum":2160},"y2":{"datum":1857}}},
{"mark":{"type":"rect","fill":{"gradient":"linear","x1":0,"y1":0,"x2":0,"y2":1,"stops":[{"offset":0,"color":"#e8e8e8"},{"offset":1,"color":"#a8a8a8"}]}},"encoding":{"x":{"datum":{"year":2024,"month":9,"date":30,"hours":8,"utc":true},"type":"temporal"},"x2":{"datum":{"year":2024,"month":11,"date":16,"hours":6,"minutes":30,"utc":true}},"y":{"datum":2160},"y2":{"datum":1857}}},
{"mark":{"type":"rect","fill":null,"stroke":"#ffffff","strokeWidth":2,"cornerRadius":3},"encoding":{"x":{"datum":{"year":2024,"month":7,"date":23,"hours":16,"minutes":30,"utc":true},"type":"temporal"},"x2":{"datum":{"year":2024,"month":7,"date":28,"hours":7,"minutes":30,"utc":true}},"y":{"datum":2262},"y2":{"datum":2187}}},
{"mark":{"type":"rect","fill":null,"stroke":"#ffffff","strokeWidth":2,"cornerRadius":3},"encoding":{"x":{"datum":{"year":2024,"month":9,"date":29,"utc":true},"type":"temporal"},"x2":{"datum":{"year":2024,"month":10,"date":4,"utc":true}},"y":{"datum":2262},"y2":{"datum":2187}}},
{"mark":{"type":"rect","fill":null,"stroke":"#757575","strokeWidth":2,"cornerRadius":3},"encoding":{"x":{"datum":{"year":2024,"month":12,"date":5,"hours":21,"minutes":30,"utc":true},"type":"temporal"},"x2":{"datum":{"year":2024,"month":12,"date":10,"hours":12,"utc":true}},"y":{"datum":2262},"y2":{"datum":2187}}},
{"mark":{"type":"rect","fill":null,"stroke":"#757575","strokeWidth":2,"cornerRadius":3},"encoding":{"x":{"datum":{"year":2025,"month":2,"date":11,"hours":14,"minutes":30,"utc":true},"type":"temporal"},"x2":{"datum":{"year":2025,"month":2,"date":16,"hours":4,"minutes":30,"utc":true}},"y":{"datum":2262},"y2":{"datum":2187}}},
{"mark":{"type":"text","text":"✓","font":"DejaVu Sans","fontSize":22,"color":"#ffffff"},"encoding":{"x":{"datum":{"year":2024,"month":7,"date":26,"utc":true},"type":"temporal"},"y":{"datum":2226}}},
{"mark":{"type":"text","text":"✓","font":"DejaVu Sans","fontSize":22,"color":"#ffffff"},"encoding":{"x":{"datum":{"year":2024,"month":10,"date":1,"hours":12,"utc":true},"type":"temporal"},"y":{"datum":2226}}},
{"mark":{"type":"text","text":"Всего кликов","align":"left","fontSize":25,"color":"#ffffff"},"encoding":{"x":{"datum":{"year":2024,"month":7,"date":30,"hours":19,"minutes":30,"utc":true},"type":"temporal"},"y":{"datum":2229}}},
{"mark":{"type":"text","text":"Всего показов","align":"left","fontSize":25,"color":"#ffffff"},"encoding":{"x":{"datum":{"year":2024,"month":10,"date":6,"hours":14,"minutes":30,"utc":true},"type":"temporal"},"y":{"datum":2229}}},
{"mark":{"type":"text","text":"Средний CTR","align":"left","fontSize":25,"color":"#757575"},"encoding":{"x":{"datum":{"year":2024,"month":12,"date":13,"utc":true},"type":"temporal"},"y":{"datum":2229}}},
{"mark":{"type":"text","text":"Средняя позиция","align":"left","fontSize":25,"color":"#757575"},"encoding":{"x":{"datum":{"year":2025,"month":2,"date":18,"hours":12,"utc":true},"type":"temporal"},"y":{"datum":2229}}},
{"mark":{"type":"text","text":"2,2 %","align":"left","fontSize":62,"fontWeight":300,"color":"#6f6f6f"},"encoding":{"x":{"datum":{"year":2024,"month":12,"date":5,"hours":21,"minutes":30,"utc":true},"type":"temporal"},"y":{"datum":2019}}},
{"mark":{"type":"text","text":"12,5","align":"left","fontSize":62,"fontWeight":300,"color":"#6f6f6f"},"encoding":{"x":{"datum":{"year":2025,"month":2,"date":11,"hours":14,"minutes":30,"utc":true},"type":"temporal"},"y":{"datum":2019}}},
{"mark":{"type":"point","shape":"circle","filled":false,"stroke":"#a8c7fa","strokeWidth":2,"opacity":1,"size":700},"encoding":{"x":{"datum":{"year":2024,"month":9,"date":12,"hours":11,"utc":true},"type":"temporal"},"y":{"datum":1893}}},
{"mark":{"type":"point","shape":"circle","filled":false,"stroke":"#b39ddb","strokeWidth":2,"opacity":1,"size":700},"encoding":{"x":{"datum":{"year":2024,"month":11,"date":19,"hours":3,"minutes":30,"utc":true},"type":"temporal"},"y":{"datum":1893}}},
{"mark":{"type":"point","shape":"circle","filled":false,"stroke":"#888888","strokeWidth":2,"opacity":1,"size":700},"encoding":{"x":{"datum":{"year":2025,"month":1,"date":25,"hours":15,"minutes":30,"utc":true},"type":"temporal"},"y":{"datum":1893}}},
{"mark":{"type":"point","shape":"circle","filled":false,"stroke":"#888888","strokeWidth":2,"opacity":1,"size":700},"encoding":{"x":{"datum":{"year":2025,"month":4,"date":3,"hours":8,"minutes":30,"utc":true},"type":"temporal"},"y":{"datum":1893}}},
{"mark":{"type":"text","text":"?","fontSize":19,"color":"#a8c7fa"},"encoding":{"x":{"datum":{"year":2024,"month":9,"date":12,"hours":11,"utc":true},"type":"temporal"},"y":{"datum":1893}}},
{"mark":{"type":"text","text":"?","fontSize":19,"color":"#b39ddb"},"encoding":{"x":{"datum":{"year":2024,"month":11,"date":19,"hours":3,"minutes":30,"utc":true},"type":"temporal"},"y":{"datum":1893}}},
{"mark":{"type":"text","text":"?","fontSize":19,"color":"#888888"},"encoding":{"x":{"datum":{"year":2025,"month":1,"date":25,"hours":15,"minutes":30,"utc":true},"type":"temporal"},"y":{"datum":1893}}},
{"mark":{"type":"text","text":"?","fontSize":19,"color":"#888888"},"encoding":{"x":{"datum":{"year":2025,"month":4,"date":3,"hours":8,"minutes":30,"utc":true},"type":"temporal"},"y":{"datum":1893}}},
{"mark":{"type":"rect","fill":"#ffffff","stroke":"#777777","strokeWidth":2,"cornerRadius":20},"encoding":{"x":{"datum":{"year":2025,"month":11,"date":17,"hours":19,"minutes":30,"utc":true},"type":"temporal"},"x2":{"datum":{"year":2026,"month":1,"date":6,"hours":5,"minutes":30,"utc":true}},"y":{"datum":2319},"y2":{"datum":2136}}},
{"mark":{"type":"text","text":"Ежедневно","align":"left","fontSize":27,"fontWeight":500,"color":"#444444"},"encoding":{"x":{"datum":{"year":2025,"month":11,"date":24,"hours":3,"minutes":30,"utc":true},"type":"temporal"},"y":{"datum":2226}}},
{"mark":{"type":"point","shape":"triangle-down","filled":true,"color":"#444444","opacity":1,"size":220},"encoding":{"x":{"datum":{"year":2025,"month":12,"date":29,"hours":17,"minutes":30,"utc":true},"type":"temporal"},"y":{"datum":2226}}},
{"mark":{"type":"text","text":"Клики","align":"left","fontSize":24,"color":"#6a6a6a"},"encoding":{"x":{"datum":{"year":2024,"month":7,"date":20,"hours":17,"utc":true},"type":"temporal"},"y":{"datum":1587}}},
{"mark":{"type":"text","text":"Показы","align":"right","fontSize":24,"color":"#6a6a6a"},"encoding":{"x":{"datum":{"year":2026,"month":1,"date":6,"hours":5,"minutes":30,"utc":true},"type":"temporal"},"y":{"datum":1587}}},
{"data":{"name":"grid"},"mark":{"type":"rule","color":"#ececec","strokeWidth":2},"encoding":{"y":{"field":"tick","type":"quantitative"}}},
{"mark":{"type":"rect","fill":{"gradient":"linear","x1":0,"y1":0,"x2":0,"y2":1,"stops":[{"offset":0,"color":"#e8e8e8"},{"offset":1,"color":"#a8a8a8"}]}},"encoding":{"x":{"datum":{"year":2024,"month":7,"date":24,"hours":2,"utc":true},"type":"temporal"},"x2":{"datum":{"year":2024,"month":8,"date":8,"hours":6,"minutes":30,"utc":true}},"y":{"datum":1530},"y2":{"datum":1446}}},
{"mark":{"type":"rect","fill":{"gradient":"linear","x1":0,"y1":0,"x2":0,"y2":1,"stops":[{"offset":0,"color":"#e8e8e8"},{"offset":1,"color":"#a8a8a8"}]}},"encoding":{"x":{"datum":{"year":2024,"month":7,"date":24,"hours":2,"utc":true},"type":"temporal"},"x2":{"datum":{"year":2024,"month":8,"date":8,"hours":6,"minutes":30,"utc":true}},"y":{"datum":1038},"y2":{"datum":951}}},
{"mark":{"type":"rect","fill":{"gradient":"linear","x1":0,"y1":0,"x2":0,"y2":1,"stops":[{"offset":0,"color":"#e8e8e8"},{"offset":1,"color":"#a8a8a8"}]}},"encoding":{"x":{"datum":{"year":2024,"month":7,"date":24,"hours":2,"utc":true},"type":"temporal"},"x2":{"datum":{"year":2024,"month":8,"date":8,"hours":6,"minutes":30,"utc":true}},"y":{"datum":540},"y2":{"datum":456}}},
{"mark":{"type":"rect","fill":{"gradient":"linear","x1":0,"y1":0,"x2":0,"y2":1,"stops":[{"offset":0,"color":"#e8e8e8"},{"offset":1,"color":"#a8a8a8"}]}},"encoding":{"x":{"datum":{"year":2025,"month":12,"date":20,"hours":7,"minutes":30,"utc":true},"type":"temporal"},"x2":{"datum":{"year":2026,"month":1,"date":4,"hours":12,"utc":true}},"y":{"datum":1530},"y2":{"datum":1446}}},
{"mark":{"type":"rect","fill":{"gradient":"linear","x1":0,"y1":0,"x2":0,"y2":1,"stops":[{"offset":0,"color":"#e8e8e8"},{"offset":1,"color":"#a8a8a8"}]}},"encoding":{"x":{"datum":{"year":2025,"month":12,"date":20,"hours":7,"minutes":30,"utc":true},"type":"temporal"},"x2":{"datum":{"year":2026,"month":1,"date":4,"hours":12,"utc":true}},"y":{"datum":1038},"y2":{"datum":951}}},
{"mark":{"type":"rect","fill":{"gradient":"linear","x1":0,"y1":0,"x2":0,"y2":1,"stops":[{"offset":0,"color":"#e8e8e8"},{"offset":1,"color":"#a8a8a8"}]}},"encoding":{"x":{"datum":{"year":2025,"month":12,"date":20,"hours":7,"minutes":30,"utc":true},"type":"temporal"},"x2":{"datum":{"year":2026,"month":1,"date":4,"hours":12,"utc":true}},"y":{"datum":540},"y2":{"datum":456}}},
{"data":{"name":"daily"},"mark":{"type":"line","color":"#4285f4","strokeWidth":4,"strokeJoin":"round"},"encoding":{
"x":{"field":"date","type":"temporal","scale":{"type":"utc","domain":[{"year":2024,"month":8,"date":10,"utc":true},{"year":2025,"month":12,"date":17,"utc":true}]},"axis":{"title":null,"format":"%d.%m.%Y","formatType":"utc","values":[{"year":2024,"month":8,"date":15,"utc":true},{"year":2024,"month":9,"date":22,"utc":true},{"year":2024,"month":10,"date":30,"utc":true},{"year":2024,"month":12,"date":7,"utc":true},{"year":2025,"month":1,"date":14,"utc":true},{"year":2025,"month":2,"date":21,"utc":true},{"year":2025,"month":3,"date":31,"utc":true},{"year":2025,"month":5,"date":8,"utc":true},{"year":2025,"month":6,"date":15,"utc":true},{"year":2025,"month":7,"date":23,"utc":true},{"year":2025,"month":8,"date":30,"utc":true},{"year":2025,"month":10,"date":7,"utc":true},{"year":2025,"month":11,"date":14,"utc":true}],"labelFontSize":23,"labelColor":"#777777","labelPadding":30,"labelOverlap":false,"labelFlush":false,"domain":false,"ticks":false,"grid":false,"zindex":1}},
"y":{"field":"clicks","type":"quantitative","scale":{"domain":[0,1500],"nice":false},"axis":{"title":null,"values":[0,500,1000,1500],"labelExpr":"datum.value === 0 ? '0' : ''","labelFontSize":23,"labelColor":"#777777","labelPadding":10,"domain":false,"ticks":false,"grid":false,"zindex":1}}
}}
]},
{"data":{"name":"daily"},"mark":{"type":"line","color":"#5e35b1","strokeWidth":4,"strokeJoin":"round"},"encoding":{
"x":{"field":"date","type":"temporal","axis":null},
"y":{"field":"impressions","type":"quantitative","scale":{"domain":[0,1500],"nice":false},"axis":{"title":null,"orient":"right","values":[0,500,1000,1500],"labelExpr":"datum.value === 0 ? '0' : ''","labelFontSize":23,"labelColor":"#777777","labelPadding":12,"domain":false,"ticks":false,"grid":false,"zindex":1}}
}}
]
}
